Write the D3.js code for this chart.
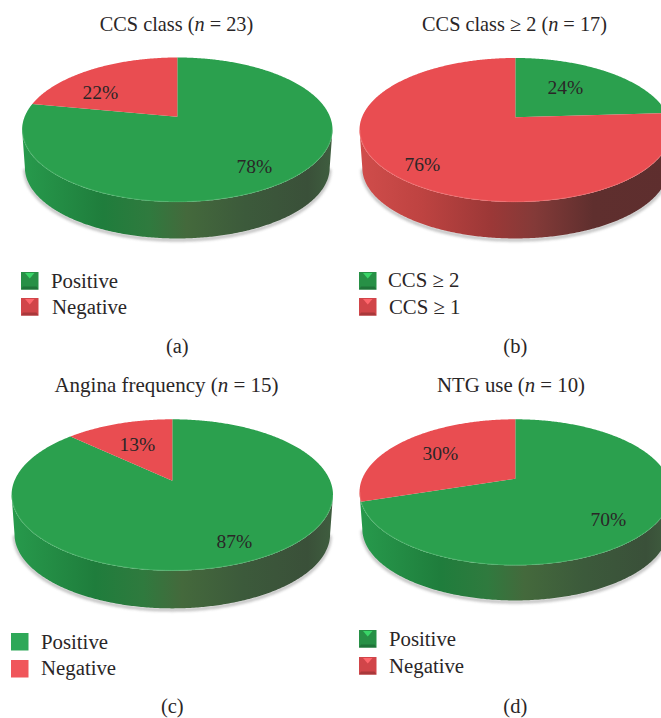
<!DOCTYPE html>
<html>
<head>
<meta charset="utf-8">
<script src="https://cdn.jsdelivr.net/npm/d3@7"></script>
<style>
  html, body { margin: 0; padding: 0; background: #fff; }
  svg { display: block; }
  text { font-family: "Liberation Serif", serif; fill: #2a2627; }
</style>
</head>
<body>
<svg id="chart" width="661" height="718"></svg>
<script>
// Chart values, one small list per panel
const captions = ["(a)", "(b)", "(c)", "(d)"];
const titlesBefore = ["CCS class (", "CCS class \u2265 2 (", "Angina frequency (", "NTG use ("];
const sampleSizes = [23, 17, 15, 10];
const greenShare = [78, 24, 87, 70];
const redShare = [22, 76, 13, 30];
const greenNames = ["Positive", "CCS \u2265 2", "Positive", "Positive"];
const redNames = ["Negative", "CCS \u2265 1", "Negative", "Negative"];

// Page layout of the four discs: apex, outline extents and extrusion height
const layout = [
  { cx: 177.3, apex: 116.7, top: 57.5,  bottom: 202,   rx: 155.2, depth: 38, titleX: 176.5, titleY: 31, titleSize: 20.3, capY: 353,
    gl: [77, 56.3], rl: [-77, -17.7], swX: 21,  swY: [272, 298], txX: [51, 52],  txY: [288, 314], bevel: true },
  { cx: 515.3, apex: 117.3, top: 58,    bottom: 202,   rx: 155.8, depth: 38, titleX: 514.5, titleY: 31, titleSize: 20.3, capY: 353,
    gl: [50, -23.3], rl: [-93, 53.4], swX: 359, swY: [272, 298], txX: [388, 389], txY: [287, 314], bevel: true },
  { cx: 172.3, apex: 480.7, top: 419.3, bottom: 570.7, rx: 160.7, depth: 39.3, titleX: 166.5, titleY: 392, titleSize: 21, capY: 713,
    gl: [62, 67.3], rl: [-35, -30], swX: 11,  swY: [633, 660], txX: [41, 41],  txY: [649, 675], bevel: false },
  { cx: 515.3, apex: 478.7, top: 419.3, bottom: 565.3, rx: 155.8, depth: 36.7, titleX: 511,   titleY: 392, titleSize: 20.8, capY: 713,
    gl: [93, 47.3], rl: [-75, -18.7], swX: 359, swY: [630, 657], txX: [389, 389], txY: [646, 673], bevel: true }
];

const faceColor = { green: "#2ba04e", red: "#e94d51" };
const flatColor = { green: "#2ea858", red: "#f0565b" };
const rimColor = { green: "#5fc07c", red: "#f57f80" };
const swatchW = 17.5, swatchH = 17.5;

const svg = d3.select("#chart");
const defs = svg.append("defs");

defs.append("filter").attr("id", "rimShadow")
  .attr("x", "-5%").attr("y", "-20%").attr("width", "110%").attr("height", "140%")
  .append("feGaussianBlur").attr("stdDeviation", 1.6);

const sideStops = {
  green: [[0, "#279a4c"], [0.26, "#1f7d3c"], [0.41, "#2f7a3e"], [0.53, "#44693c"], [0.72, "#3c5a3b"], [0.92, "#3a5039"], [1, "#3f5e3f"]],
  red:   [[0, "#d04d4b"], [0.2, "#be4341"], [0.42, "#9c3837"], [0.56, "#843a38"], [0.75, "#5f2f2e"], [1, "#5e2e2e"]]
};

const pie = d3.pie().sort(null).value(d => d.value).startAngle(0).endAngle(2 * Math.PI);
const outline = d3.line().x(d => d[0]).y(d => d[1]);

layout.forEach((g, i) => {
  const panel = svg.append("g");

  // Perspective projection of the unit disc, so the apex sits above the outline's centre
  const upper = g.apex - g.top, lower = g.bottom - g.apex;
  const p = (lower - upper) / (lower + upper);
  const B = upper * (1 + p);
  const A = g.rx * Math.sqrt(1 - p * p);
  const project = (angle, r = 1, shrink = 1, drop = 0) => {
    const u = r * Math.sin(angle), v = -r * Math.cos(angle), w = 1 - p * v;
    return [g.cx + shrink * A * u / w, g.apex + drop + shrink * B * v / w];
  };
  const samples = (a0, a1) => {
    const n = Math.max(2, Math.ceil((a1 - a0) / 0.01));
    return d3.range(n + 1).map(k => a0 + (a1 - a0) * k / n);
  };

  const slices = pie([
    { key: "green", value: greenShare[i] },
    { key: "red", value: redShare[i] }
  ]);

  // The front rim runs between the two outline extremes of the projected disc
  const frontStart = Math.PI - Math.acos(p);
  const frontEnd = Math.PI + Math.acos(p);
  const lowerRim = samples(frontStart, frontEnd).map(a => project(a, 1, 0.982, g.depth));

  // Soft shadow under the extruded wall
  panel.append("path")
    .attr("d", outline(lowerRim.map(q => [q[0], q[1] + 1.5])))
    .attr("fill", "none").attr("stroke", "#777").attr("stroke-width", 2.5)
    .attr("opacity", 0.6).attr("filter", "url(#rimShadow)");

  // The wall takes the colour of whichever slice holds the front of the disc
  const wallSlice = slices.find(s => s.startAngle <= Math.PI && s.endAngle >= Math.PI);
  const wallId = `side-${i}`;
  const grad = defs.append("linearGradient").attr("id", wallId)
    .attr("gradientUnits", "userSpaceOnUse")
    .attr("x1", g.cx - g.rx).attr("x2", g.cx + g.rx).attr("y1", 0).attr("y2", 0);
  sideStops[wallSlice.data.key].forEach(st => grad.append("stop").attr("offset", st[0]).attr("stop-color", st[1]));
  const wallAngles = samples(frontStart, frontEnd);
  const wall = wallAngles.map(a => project(a))
    .concat(wallAngles.slice().reverse().map(a => project(a, 1, 0.982, g.depth)));
  panel.append("path").attr("d", outline(wall) + "Z").attr("fill", `url(#${wallId})`);

  // Top face
  slices.forEach(s => {
    const rimPts = samples(s.startAngle, s.endAngle).map(a => project(a));
    panel.append("path")
      .attr("d", outline([project(0, 0)].concat(rimPts)) + "Z")
      .attr("fill", faceColor[s.data.key]);
  });

  // Bevel highlight along the front edge of the top face
  slices.forEach(s => {
    const a0 = Math.max(s.startAngle, frontStart), a1 = Math.min(s.endAngle, frontEnd);
    if (a1 <= a0) return;
    panel.append("path")
      .attr("d", outline(samples(a0, a1).map(a => project(a, 0.997))))
      .attr("fill", "none").attr("stroke", rimColor[s.data.key])
      .attr("stroke-width", 1).attr("opacity", 0.5);
  });

  // Percentage labels
  const valueLabel = (value, off) => panel.append("text")
    .attr("x", g.cx + off[0]).attr("y", g.apex + off[1])
    .attr("text-anchor", "middle").attr("font-size", 19.5).text(value + "%");
  valueLabel(greenShare[i], g.gl);
  valueLabel(redShare[i], g.rl);

  // Title with an italic n
  const title = panel.append("text")
    .attr("x", g.titleX).attr("y", g.titleY)
    .attr("text-anchor", "middle").attr("font-size", g.titleSize);
  title.append("tspan").text(titlesBefore[i]);
  title.append("tspan").attr("font-style", "italic").text("n");
  title.append("tspan").text(` = ${sampleSizes[i]})`);

  // Legend
  [["green", greenNames[i]], ["red", redNames[i]]].forEach(([key, name], k) => {
    const x = g.swX, y = g.swY[k];
    const sw = panel.append("g");
    if (g.bevel) {
      const base = d3.color(faceColor[key]);
      sw.append("rect").attr("x", x).attr("y", y).attr("width", swatchW).attr("height", swatchH)
        .attr("fill", base.darker(0.3));
      sw.append("path")
        .attr("d", outline([[x, y + swatchH], [x + 2, y + swatchH - 3], [x + swatchW - 2, y + swatchH - 3], [x + swatchW, y + swatchH]]) + "Z")
        .attr("fill", base.darker(0.9));
      sw.append("path")
        .attr("d", outline([[x + 4, y + 1], [x + swatchW - 4, y + 1], [x + swatchW / 2, y + 6.5]]) + "Z")
        .attr("fill", base.brighter(0.8));
    } else {
      sw.append("rect").attr("x", x).attr("y", y).attr("width", swatchW).attr("height", swatchH)
        .attr("fill", flatColor[key]);
    }
    panel.append("text").attr("x", g.txX[k]).attr("y", g.txY[k])
      .attr("font-size", 20.8).text(name);
  });

  // Panel caption
  panel.append("text").attr("x", g.cx).attr("y", g.capY)
    .attr("text-anchor", "middle").attr("font-size", 20.5).text(captions[i]);
});
</script>
</body>
</html>
